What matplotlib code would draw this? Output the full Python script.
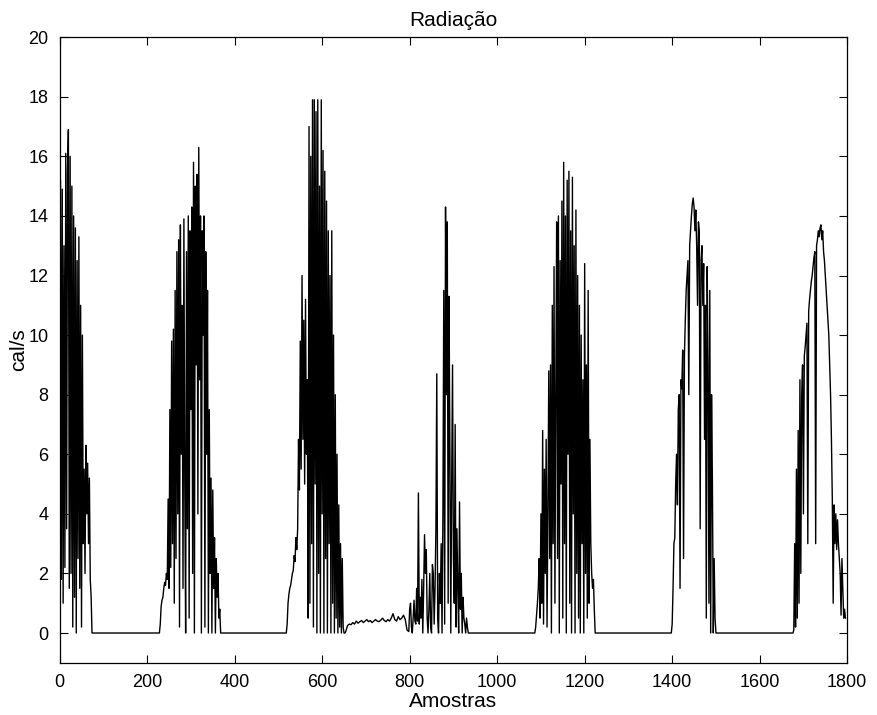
import numpy as np
import matplotlib
matplotlib.use("Agg")
import matplotlib.pyplot as plt

# daily blocks of samples: (first sample, step, values); nights are 0
day1_start = 0
day1 = [3.0, 15.2, 1.8, 14.9, 1.0, 13.0, 2.2, 16.1, 3.5, 15.5, 16.9, 1.5, 16.0, 2.0,
        15.0, 0.2, 14.0, 1.2, 13.6, 0.0, 12.5, 2.5, 13.3, 1.5, 11.0, 0.2, 10.0, 3.0,
        5.5, 2.0, 6.3, 4.0, 5.7, 3.0, 5.2, 1.8, 1.2, 0.0, 0.0]

day2_start = 228
day2 = [0.0, 0.3, 0.9, 1.1, 1.2, 1.5, 1.7, 1.6, 2.0, 1.8, 4.5, 1.5, 7.5, 2.2, 9.8, 3.0,
        10.2, 1.0, 11.5, 2.5, 12.8, 4.0, 13.2, 0.2, 13.7, 6.0, 11.0, 1.5, 13.9, 5.0,
        0.0, 12.8, 3.5, 14.0, 0.5, 13.5, 7.5, 14.3, 2.0, 15.8, 0.0, 15.0, 9.0, 15.4,
        4.0, 16.3, 8.5, 14.0, 0.0, 13.5, 10.0, 14.0, 0.2, 12.8, 6.0, 11.5, 0.0, 7.5,
        2.0, 5.2, 0.0, 4.8, 1.5, 3.2, 0.0, 2.5, 1.2, 2.0, 0.5, 0.8, 0.0, 0.0]

day3_start = 518
day3 = [0.0, 0.3, 1.0, 1.3, 1.5, 1.6, 1.8, 2.0, 2.1, 2.6, 2.4, 3.2, 2.8, 3.5, 6.5, 4.8,
        9.8, 5.5, 12.0, 6.5, 10.5, 5.0, 11.2, 6.0, 8.5, 0.5, 17.0, 1.0, 16.0, 3.0,
        17.9, 0.2, 17.9, 5.0, 17.5, 0.0, 17.9, 2.0, 15.0, 0.0, 17.9, 4.0, 16.2, 0.0,
        15.5, 2.5, 14.5, 0.0, 13.5, 3.0, 12.0, 0.0, 13.5, 1.0, 10.0, 0.0, 8.0, 0.5,
        6.0, 0.0, 4.3, 0.2, 3.0, 0.0, 2.5, 0.2, 0.0, 0.0]

# cloudy day: low plateau then a few spikes
day4a_start = 654
day4a = [0.05, 0.25, 0.3, 0.28, 0.35, 0.3, 0.4, 0.33, 0.38, 0.42, 0.35, 0.4, 0.45, 0.38,
         0.42, 0.35, 0.4, 0.45, 0.4, 0.38, 0.43, 0.5, 0.42, 0.38, 0.45, 0.4, 0.5, 0.65,
         0.45, 0.4, 0.55, 0.45, 0.5, 0.6, 0.45, 0.1, 0.05]
day4_start = 800
day4 = [0.8, 1.0, 0.2, 0.0, 0.5, 1.1, 0.4, 0.3, 1.5, 0.4, 4.7, 0.3, 1.2, 0.5, 1.8, 0.0,
        1.5, 3.3, 2.0, 2.8, 0.5, 0.0, 0.8, 2.0, 0.2, 0.0, 2.3, 2.0, 0.3, 1.5, 3.5, 8.7,
        0.5, 0.0, 2.0, 1.0, 3.0, 0.0, 4.0, 11.5, 0.3, 14.3, 8.0, 13.8, 1.0, 11.3, 6.0,
        0.0, 5.0, 9.0, 2.5, 1.0, 7.0, 0.2, 3.5, 1.5, 0.0, 4.4, 0.8, 2.0, 0.0, 1.2, 0.5,
        0.3, 0.0, 0.5, 0.2, 0.0, 0.0]

day5_start = 1086
day5 = [0.0, 0.2, 0.6, 1.0, 1.5, 2.5, 0.5, 4.0, 1.0, 6.8, 0.3, 5.5, 2.0, 6.5, 0.2, 4.2,
        8.8, 2.5, 9.0, 0.0, 11.0, 3.0, 12.3, 1.0, 8.0, 13.8, 2.5, 14.0, 0.0, 12.5, 5.0,
        14.5, 0.5, 15.8, 3.0, 14.0, 0.0, 15.2, 6.0, 15.5, 1.0, 13.5, 0.0, 15.3, 4.0,
        13.0, 0.0, 14.2, 2.0, 12.0, 0.5, 11.0, 0.0, 10.0, 3.0, 8.5, 0.0, 12.4, 2.0,
        9.0, 0.5, 11.5, 1.0, 6.5, 3.0, 2.0, 1.5, 1.8, 0.8, 0.0, 0.0]

day6_start = 1398
day6 = [0.0, 0.3, 1.5, 3.0, 3.2, 5.0, 6.0, 4.3, 7.5, 8.0, 1.5, 8.5, 8.2, 9.5, 2.5, 9.3,
        10.5, 11.5, 12.0, 12.5, 8.0, 13.0, 13.5, 14.0, 14.4, 14.6, 14.3, 13.5, 14.2,
        13.0, 11.0, 13.8, 13.5, 3.5, 12.5, 13.0, 11.0, 12.4, 6.5, 11.0, 0.5, 12.3, 9.0,
        1.0, 11.5, 0.0, 8.0, 5.0, 0.0, 2.5, 0.5, 0.0]

day7_start = 1676
day7 = [0.0, 0.1, 3.0, 0.2, 5.5, 0.5, 6.8, 1.0, 8.5, 2.0, 8.0, 9.0, 4.0, 9.3, 9.6, 10.0,
        10.4, 3.0, 10.8, 11.2, 11.5, 11.8, 12.0, 12.3, 12.6, 12.8, 3.0, 13.0, 13.2,
        13.5, 13.3, 13.6, 13.7, 13.2, 13.5, 12.8, 12.5, 12.0, 11.5, 11.0, 10.5, 10.0,
        9.0, 8.0, 6.5, 4.5, 1.0, 4.3, 3.0, 4.0, 2.8, 3.8, 3.0, 2.5, 2.0, 0.6, 2.5, 1.5,
        0.5, 0.8, 0.5]

blocks = [(day1_start, 2, day1), (day2_start, 2, day2), (day3_start, 2, day3),
          (day4a_start, 4, day4a), (day4_start, 2, day4), (day5_start, 2, day5),
          (day6_start, 2, day6), (day7_start, 2, day7)]

xs, ys = [], []
for start, step, vals in blocks:
    xs.append(start + step * np.arange(len(vals)))
    ys.append(np.array(vals))
x = np.concatenate(xs)
y = np.concatenate(ys)

plt.rcParams['font.family'] = ['Liberation Sans', 'DejaVu Sans']

fig = plt.figure(figsize=(8.77, 7.15), dpi=100)
ax = fig.add_axes([0.068, 0.073, 0.898, 0.875])
ax.plot(x, y, color='black', linewidth=1.0)

ax.set_xlim(0, 1800)
ax.set_ylim(-1, 20)
ax.set_xticks(np.arange(0, 1801, 200))
ax.set_yticks(np.arange(0, 21, 2))
ax.tick_params(direction='in', top=True, right=True, labelsize=13, length=6,
               width=0.8, pad=8)
for s in ax.spines.values():
    s.set_linewidth(0.9)

ax.set_title('Radiação', fontsize=15, pad=8)
ax.set_xlabel('Amostras', fontsize=15, labelpad=1)
ax.set_ylabel('cal/s', fontsize=15, labelpad=0)

fig.savefig('out.png', dpi=100)
